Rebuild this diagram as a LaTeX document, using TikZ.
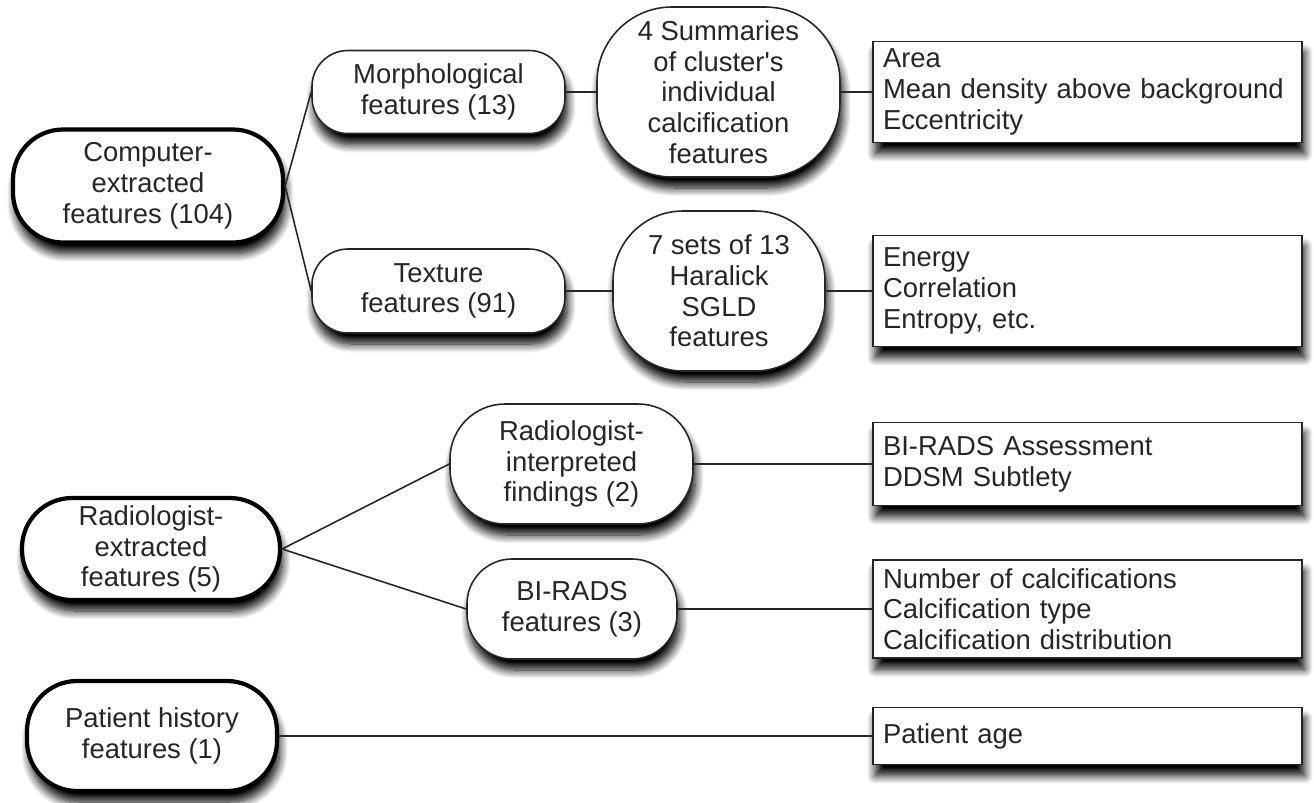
\documentclass[tikz,border=0pt]{standalone}
\usepackage{fontspec}
\setmainfont{Liberation Sans}
\usetikzlibrary{shadows,shadows.blur}
\begin{document}
\begin{tikzpicture}[x=0.02cm,y=-0.02cm,
  every node/.style={font=\fontsize{15.6}{17.5}\selectfont, text=black!85},
  shad/.style={blur shadow={shadow xshift=0.05cm, shadow yshift=-0.22cm, shadow blur radius=0.17cm, shadow blur steps=10, shadow opacity=100}},
  topbox/.style={draw=black, line width=2.4pt, fill=white, rounded corners=1cm, align=center, inner sep=0pt, shad},
  midbox/.style={draw=black!85, line width=0.9pt, fill=white, align=center, inner sep=0pt, shad},
  listbox/.style={draw=black!85, line width=0.9pt, fill=white, align=left, inner xsep=0.2cm, inner ysep=0pt,
     text width=429*0.02cm-0.4cm, minimum width=429*0.02cm, shad},
  conn/.style={draw=black!85, line width=0.9pt}]
\useasboundingbox (0,0) rectangle (1314,802);
% level 1
\node[topbox, minimum width=270*0.02cm, minimum height=113*0.02cm] (comp) at (148,186) {Computer-\\extracted\\features (104)};
\node[topbox, minimum width=258*0.02cm, minimum height=102*0.02cm] (rade) at (151,549) {Radiologist-\\extracted\\features (5)};
\node[topbox, minimum width=250*0.02cm, minimum height=110*0.02cm] (pat) at (152,736) {Patient history\\features (1)};
% level 2
\node[midbox, rounded corners=0.72cm, minimum width=253*0.02cm, minimum height=83*0.02cm] (morph) at (438.5,92) {Morphological\\features (13)};
\node[midbox, rounded corners=0.72cm, minimum width=253*0.02cm, minimum height=84*0.02cm] (tex) at (438.5,291) {Texture\\features (91)};
\node[midbox, rounded corners=1.1cm, minimum width=243*0.02cm, minimum height=120*0.02cm] (interp) at (571.5,464) {Radiologist-\\interpreted\\findings (2)};
\node[midbox, rounded corners=0.9cm, minimum width=210*0.02cm, minimum height=100*0.02cm] (birads) at (572,609) {BI-RADS\\features (3)};
% level 3
\node[midbox, rounded corners=1.5cm, minimum width=243*0.02cm, minimum height=170*0.02cm] (summ) at (718.5,92) {4 Summaries\\of cluster\textquotesingle s\\individual\\calcification\\features};
\node[midbox, rounded corners=1.4cm, minimum width=212*0.02cm, minimum height=160*0.02cm] (sets) at (719,291) {7 sets of 13\\Haralick\\SGLD\\features};
% lists
\node[listbox, minimum height=101*0.02cm] (area) at (1087.5,92) {Area\\Mean density above background\\Eccentricity};
\node[listbox, minimum height=111*0.02cm] (energy) at (1087.5,291) {Energy\\Correlation\\Entropy, etc.};
\node[listbox, minimum height=83*0.02cm] (assess) at (1087.5,464) {BI-RADS Assessment\\DDSM Subtlety};
\node[listbox, minimum height=98*0.02cm] (numcalc) at (1087.5,609) {Number of calcifications\\Calcification type\\Calcification distribution};
\node[listbox, minimum height=57*0.02cm] (age) at (1087.5,736) {Patient age};
% connectors
\draw[conn] (comp.east) -- (morph.west);
\draw[conn] (comp.east) -- (tex.west);
\draw[conn] (morph.east) -- (summ.west);
\draw[conn] (summ.east) -- (area.west);
\draw[conn] (tex.east) -- (sets.west);
\draw[conn] (sets.east) -- (energy.west);
\draw[conn] (rade.east) -- (interp.west);
\draw[conn] (rade.east) -- (birads.west);
\draw[conn] (interp.east) -- (assess.west);
\draw[conn] (birads.east) -- (numcalc.west);
\draw[conn] (pat.east) -- (age.west);
\end{tikzpicture}
\end{document}
